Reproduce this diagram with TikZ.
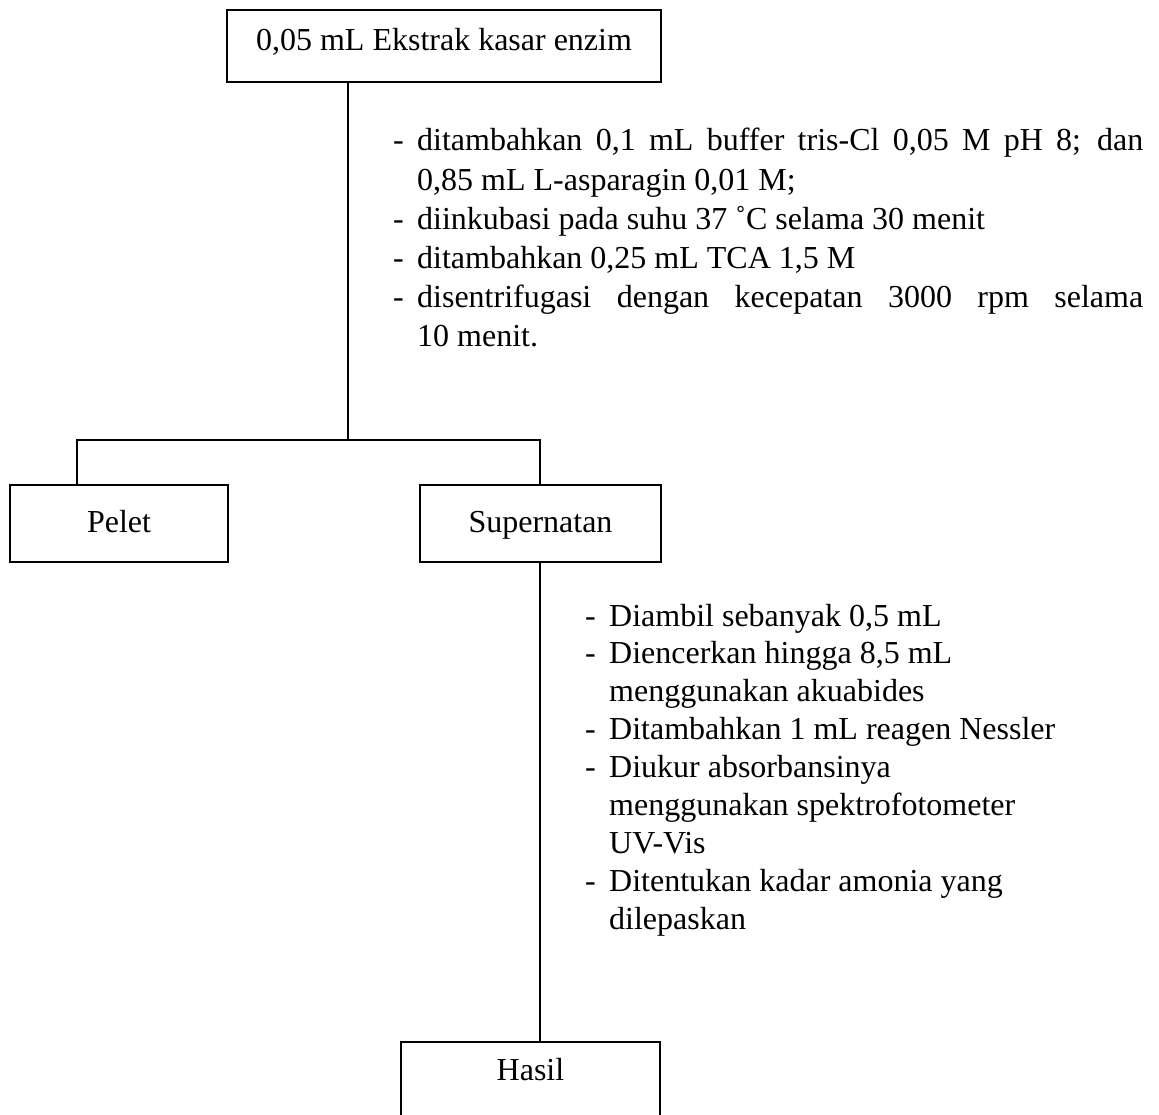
\documentclass[tikz,border=0pt]{standalone}
\usepackage{fontspec}
\setmainfont{Liberation Serif}
\begin{document}
\begin{tikzpicture}[x=1pt,y=-1pt,
  box/.style={draw, line width=2.2pt, inner xsep=0pt, inner ysep=0pt, align=center,
    font=\fontsize{32}{38}\selectfont},
  conn/.style={line width=2.2pt},
  steps/.style={anchor=base west, inner sep=0pt, align=justify}]
\useasboundingbox (0,0) rectangle (1159,1115);
% boxes
\node[box, minimum width=434pt, text height=40pt, text depth=32pt] (top) at (444,9) [anchor=north] {0,05 mL Ekstrak kasar enzim};
\node[box, minimum width=218pt, text height=47pt, text depth=30pt] (pelet) at (119,484) [anchor=north] {Pelet};
\node[box, minimum width=241pt, text height=47pt, text depth=30pt] (super) at (540.5,484) [anchor=north] {Supernatan};
\node[box, minimum width=259pt, text height=38pt, text depth=39pt] (hasil) at (530.5,1041) [anchor=north] {Hasil};
% branch points
\coordinate (split) at (348,440);
\coordinate (lft) at (77,440);
\coordinate (rgt) at (540,440);
\draw[conn] (top.south -| split) -- (split);
\draw[conn] (lft |- pelet.north) -- (lft) -- (rgt) -- (rgt |- super.north);
\draw[conn] (super.south -| rgt) -- (hasil.north -| rgt);
% step texts
\node[steps, text width=750pt, font=\fontsize{32}{39.2}\selectfont] (s1) at (393,151) {%
\parindent=0pt\parskip=0pt
\hangindent=24pt\hangafter=1\makebox[24pt][l]{-}ditambahkan 0,1 mL buffer tris-Cl 0,05 M pH 8; dan\linebreak 0,85 mL L-asparagin 0,01 M;\par
\hangindent=24pt\hangafter=1\makebox[24pt][l]{-}diinkubasi pada suhu 37 ˚C selama 30 menit\par
\hangindent=24pt\hangafter=1\makebox[24pt][l]{-}ditambahkan 0,25 mL TCA 1,5 M\par
\hangindent=24pt\hangafter=1\makebox[24pt][l]{-}disentrifugasi dengan kecepatan 3000 rpm selama\linebreak 10 menit.\par};
\node[steps, text width=540pt, font=\fontsize{32}{37.9}\selectfont] (s2) at (585,626) {%
\parindent=0pt\parskip=0pt
\hangindent=24pt\hangafter=1\makebox[24pt][l]{-}Diambil sebanyak 0,5 mL\par
\hangindent=24pt\hangafter=1\makebox[24pt][l]{-}Diencerkan hingga 8,5 mL\hfil\break menggunakan akuabides\par
\hangindent=24pt\hangafter=1\makebox[24pt][l]{-}Ditambahkan 1 mL reagen Nessler\par
\hangindent=24pt\hangafter=1\makebox[24pt][l]{-}Diukur absorbansinya\hfil\break menggunakan spektrofotometer\hfil\break UV-Vis\par
\hangindent=24pt\hangafter=1\makebox[24pt][l]{-}Ditentukan kadar amonia yang\hfil\break dilepaskan\par};
\end{tikzpicture}
\end{document}
